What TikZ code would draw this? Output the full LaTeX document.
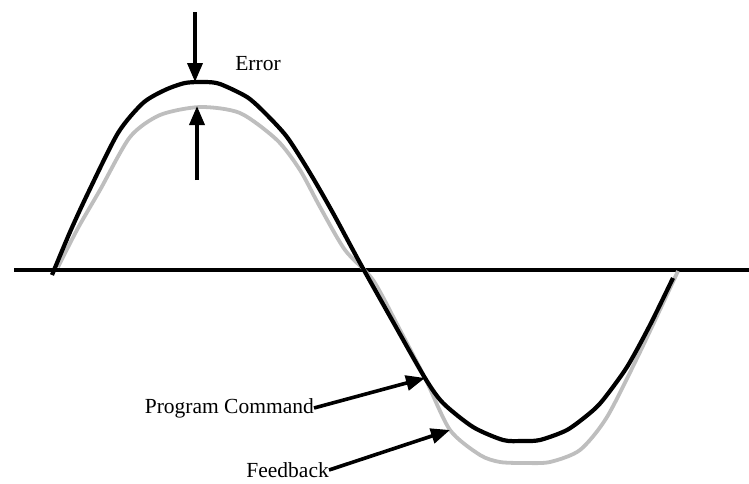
\documentclass[tikz,border=0pt]{standalone}
\usepackage{fontspec}
\setmainfont{Liberation Serif}
\usetikzlibrary{arrows.meta}
\definecolor{fbgray}{RGB}{190,190,190}
\tikzset{
  cmdline/.style={line width=4.2pt, black, line join=round},
  fbline/.style={line width=3.8pt, fbgray, line join=round},
  axisline/.style={line width=3.8pt, black},
  ptr/.style={line width=3.6pt, -{Triangle[length=19pt,width=15pt]}},
  lbl/.style={font=\fontsize{21.5}{25}\selectfont, inner sep=0pt}
}
\begin{document}
\begin{tikzpicture}[x=1pt,y=-1pt]
\useasboundingbox (0,0) rectangle (749,483);
% axis
\coordinate (axL) at (14,270);
\coordinate (axR) at (749,270);
\draw[axisline] (axL) -- (axR);
% feedback (gray)
\draw[fbline] plot[smooth,tension=0.45] coordinates {
 (58,267) (78,228) (100,190) (130,137) (160,115) (200,107) (240,113)
 (277,140) (300,170) (320,207) (345,250) (373,280) (400,330) (425,378)
 (450,430) (480,455) (500,462) (525,463) (550,462) (580,450) (607,417)
 (640,352) (678,271)};
% program command (black)
\draw[cmdline] plot[smooth,tension=0.45] coordinates {
 (52,275) (70,232) (88,193) (118,133) (143,103) (165,90) (185,83) (205,82)
 (220,84) (247,97) (265,113) (287,137) (310,173) (333,213) (360,263)
 (392,320) (425,378) (443,403) (473,427) (503,440) (522,441) (540,440)
 (567,430) (590,413) (603,400) (627,367) (650,325) (673,278)};
% error arrows
\coordinate (eTop) at (195,12);
\coordinate (eTip1) at (195,82);
\coordinate (eBot) at (197,180);
\coordinate (eTip2) at (197,106);
\draw[ptr] (eTop) -- (eTip1);
\draw[ptr] (eBot) -- (eTip2);
\node[lbl] (err) at (258,64) {Error};
% labels
\node[lbl, anchor=east] (pc) at (314,408) {Program Command};
\node[lbl, anchor=east] (fb) at (329,470) {Feedback};
\coordinate (pcTip) at (425,378);
\coordinate (fbTip) at (450,430);
\draw[ptr] (pc.east) -- (pcTip);
\draw[ptr] (fb.east) -- (fbTip);
\end{tikzpicture}
\end{document}
